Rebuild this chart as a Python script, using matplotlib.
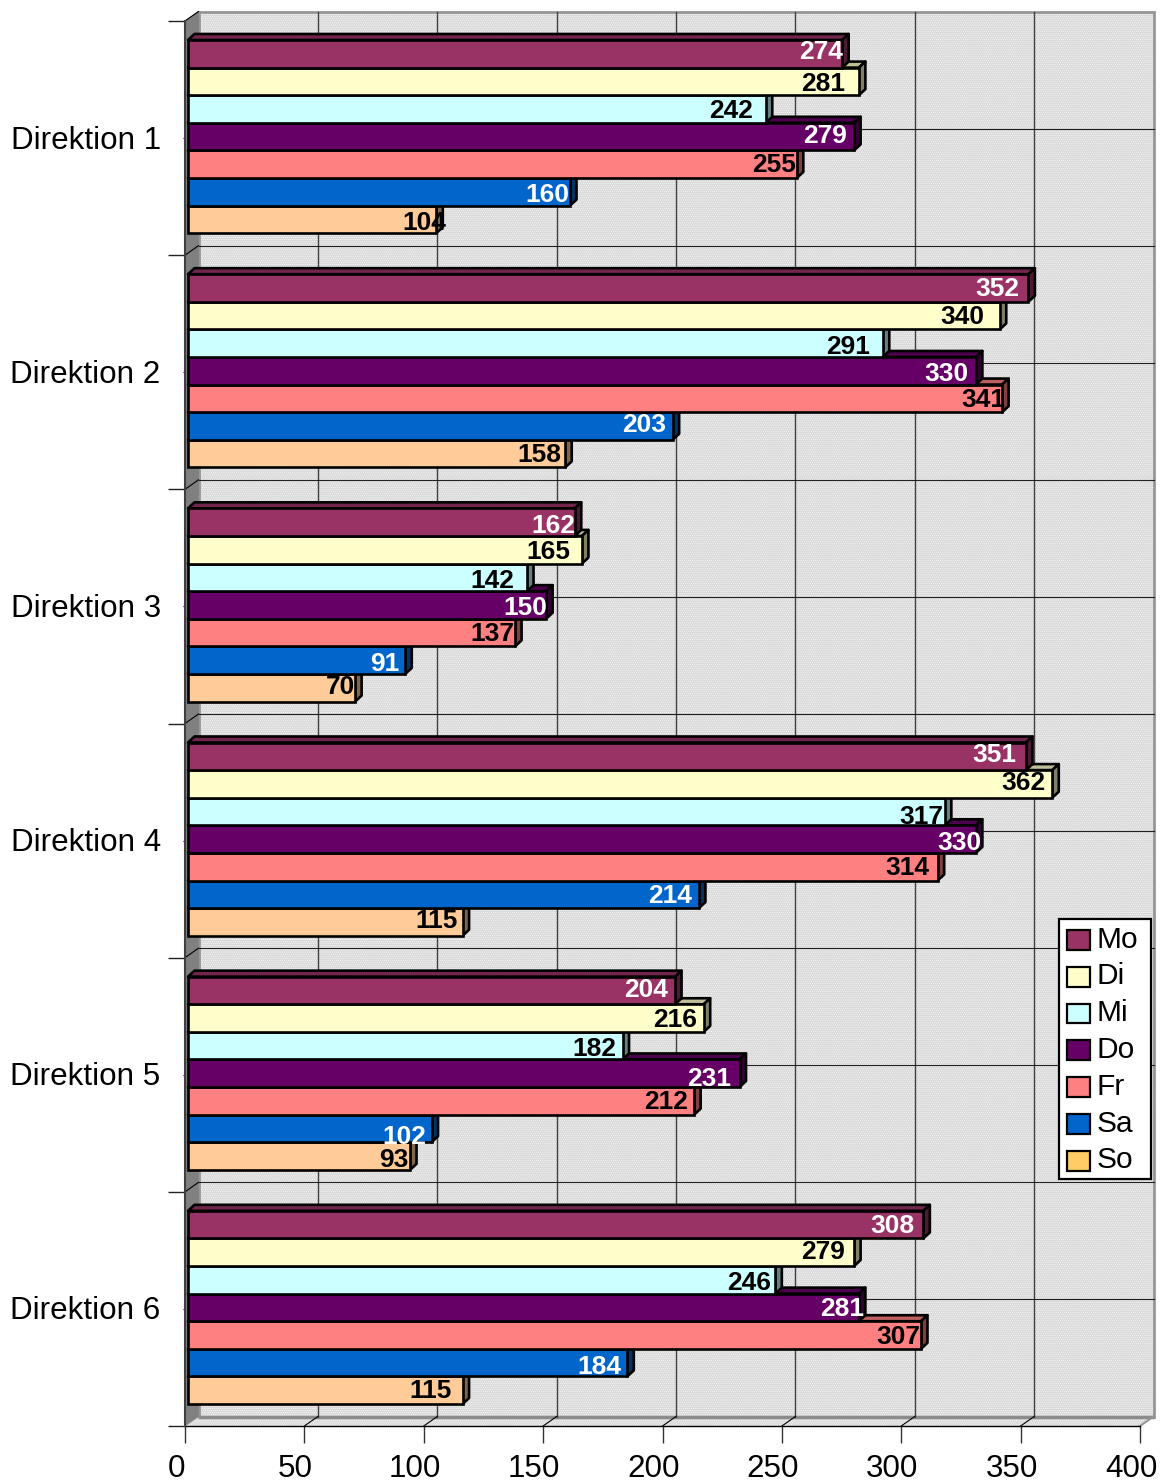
#!/usr/bin/env python3
# Horizontal 3D-look bar chart, weekday values per Direktion.
import matplotlib
matplotlib.use("Agg")
import matplotlib.pyplot as plt
from matplotlib.patches import Patch, Polygon, Rectangle
from matplotlib.transforms import ScaledTranslation, offset_copy

plt.rcParams["font.family"] = ["Liberation Sans", "DejaVu Sans"]
plt.rcParams["hatch.linewidth"] = 0.4

categories = ["Direktion 1", "Direktion 2", "Direktion 3",
              "Direktion 4", "Direktion 5", "Direktion 6"]
days = ["Mo", "Di", "Mi", "Do", "Fr", "Sa", "So"]

mo = [274, 352, 162, 351, 204, 308]
di = [281, 340, 165, 362, 216, 279]
mi = [242, 291, 142, 317, 182, 246]
do = [279, 330, 150, 330, 231, 281]
fr = [255, 341, 137, 314, 212, 307]
sa = [160, 203, 91, 214, 102, 184]
so = [104, 158, 70, 115, 93, 115]
series = [mo, di, mi, do, fr, sa, so]

x_ticks = [0, 50, 100, 150, 200, 250, 300, 350, 400]

bar_colors = ["#993366", "#FFFFCC", "#CCFFFF", "#660066", "#FF8080", "#0066CC", "#FFCC99"]
legend_colors = ["#993366", "#FFFFCC", "#CCFFFF", "#660066", "#FF8080", "#0066CC", "#FFCC66"]
label_colors = ["white", "black", "black", "white", "black", "white", "black"]

# hand placement of the value labels, px relative to bar end / bar middle
# one row per day, one column per Direktion
label_dx = [
    [-21, -31, -21, -32, -29, -31],
    [-36, -37, -34, -29, -29, -31],
    [-35, -35, -35, -23, -28, -26],
    [-29, -29, -21, -16, -30, -17],
    [-23, -19, -23, -30, -28, -23],
    [-23, -29, -21, -29, -27, -28],
    [-12, -26, -15, -26, -16, -32],
]
label_dy = [
    [-3, 0, 2, -3, -2, 0],
    [1, 0, 1, -2, 0, -2],
    [0, 2, 2, 4, 2, 2],
    [-2, 2, 2, 2, 4, 0],
    [-1, 0, 0, 0, 0, 0],
    [2, -2, 2, 0, 7, 3],
    [2, 0, -2, -2, 2, -1],
]

W, H = 1160, 1483
LEFT, RIGHT, TOP, BOTTOM = 185, 1140, 21, 1426
px_x = (RIGHT - LEFT) / 400
px_y = (BOTTOM - TOP) / 6

# depth of the wall and of the bars, in data units
WALL_DX, WALL_DY = 13.5 / px_x, 9.5 / px_y
BAR_DX, BAR_DY = 6.5 / px_x, 6 / px_y
BAR_X0 = 3 / px_x
BAR_H = 27.6 / px_y
GROUP_PAD = 19 / px_y
EDGE = 1.9


def shade(color, f):
    r, g, b = matplotlib.colors.to_rgb(color)
    return (r * f, g * f, b * f)


fig = plt.figure(figsize=(W / 100, H / 100), dpi=100)
ax = fig.add_axes([LEFT / W, 1 - BOTTOM / H, (RIGHT - LEFT) / W, (BOTTOM - TOP) / H])
ax.set_xlim(0, 400)
ax.set_ylim(6, 0)
for s in ax.spines.values():
    s.set_visible(False)
ax.patch.set_visible(False)

# back wall, floor and side wall
back = [(WALL_DX, -WALL_DY), (400 + WALL_DX, -WALL_DY), (400 + WALL_DX, 6 - WALL_DY), (WALL_DX, 6 - WALL_DY)]
floor = [(0, 6), (400, 6), (400 + WALL_DX, 6 - WALL_DY), (WALL_DX, 6 - WALL_DY)]
for pts in (back, floor):
    ax.add_patch(Polygon(pts, fc="#D9D9D9", ec="white", lw=0, hatch="........", clip_on=False, zorder=1))
ax.add_patch(Polygon(back, fc="none", ec="#969696", lw=2, clip_on=False, zorder=1))
ax.add_patch(Polygon([(WALL_DX, 6 - WALL_DY), (400 + WALL_DX, 6 - WALL_DY)], closed=False, fill=False,
                     ec="#8C8C8C", lw=2.5, clip_on=False, zorder=1))
ax.add_patch(Polygon([(0, 0), (WALL_DX, -WALL_DY), (WALL_DX, 6 - WALL_DY), (0, 6)],
                     fc="#808080", ec="#808080", lw=0.5, clip_on=False, zorder=1))
ax.plot([400, 400 + WALL_DX], [6, 6 - WALL_DY], color="#969696", lw=1.5, clip_on=False, zorder=1)

# grid on the wall, with the little diagonals to the front plane
for t in x_ticks[1:-1]:
    ax.plot([t + WALL_DX] * 2, [-WALL_DY, 6 - WALL_DY], color="#404040", lw=1, clip_on=False, zorder=2)
    ax.plot([t, t + WALL_DX], [6, 6 - WALL_DY], color="black", lw=0.8, clip_on=False, zorder=2)
for k in range(1, 12):
    ax.plot([WALL_DX, 400 + WALL_DX], [k / 2 - WALL_DY] * 2, color="#202020", lw=0.8, clip_on=False, zorder=2)
for k in range(0, 6):
    ax.plot([0, WALL_DX], [k, k - WALL_DY], color="black", lw=0.8, clip_on=False, zorder=2)
ax.plot([0, 400], [6, 6], color="black", lw=1, clip_on=False, zorder=2)
ax.plot([0, 0], [0, 6], color="#404040", lw=1.5, clip_on=False, zorder=2)

# bars go bottom row first: an upper bar covers the top face of the one below
for g in range(len(categories) - 1, -1, -1):
    for i in range(len(days) - 1, -1, -1):
        v = series[i][g]
        y0 = g + GROUP_PAD + i * BAR_H
        y1 = y0 + BAR_H
        end = BAR_X0 + v
        c = bar_colors[i]
        ax.add_patch(Polygon([(BAR_X0, y0), (end, y0), (end + BAR_DX, y0 - BAR_DY), (BAR_X0 + BAR_DX, y0 - BAR_DY)],
                             fc=shade(c, 0.75), ec="black", lw=EDGE, joinstyle="round", zorder=3))
        ax.add_patch(Polygon([(end, y0), (end + BAR_DX, y0 - BAR_DY), (end + BAR_DX, y1 - BAR_DY), (end, y1)],
                             fc=shade(c, 0.5), ec="black", lw=EDGE, joinstyle="round", zorder=3))
        ax.barh(y0 + BAR_H / 2, v, height=BAR_H, left=BAR_X0, color=c, edgecolor="black", lw=EDGE, zorder=3)

# value labels over all the bars
for g in range(len(categories)):
    for i in range(len(days)):
        v = series[i][g]
        yc = g + GROUP_PAD + (i + 0.5) * BAR_H
        tr = offset_copy(ax.transData, fig=fig, units="dots", x=label_dx[i][g], y=1 - label_dy[i][g])
        ax.text(BAR_X0 + v, yc, str(v), transform=tr, ha="center", va="center_baseline",
                fontsize=19, fontweight="bold", color=label_colors[i], zorder=5)

# axes ticks
ax.set_xticks(x_ticks)
ax.set_xticklabels([str(t) for t in x_ticks])
ax.tick_params(axis="x", length=12.2, width=1, pad=8, labelsize=22.6, color="#333333")
shift = ScaledTranslation(-9 / 100, 0, fig.dpi_scale_trans)
for lab in ax.get_xticklabels():
    lab.set_transform(lab.get_transform() + shift)

ax.set_yticks(range(7))
ax.set_yticklabels([])
ax.set_yticks([k + 0.5 for k in range(6)], minor=True)
ax.set_yticklabels(categories, minor=True)
ax.tick_params(axis="y", which="major", length=12.2, width=1, color="#222222")
ax.tick_params(axis="y", which="minor", length=1.5, width=0.8, pad=16, labelsize=22.6)
up = ScaledTranslation(0, 1 / 100, fig.dpi_scale_trans)
for lab in ax.get_yticklabels(minor=True):
    lab.set_transform(lab.get_transform() + up)

# legend box is wider than matplotlib would make it, so its frame is drawn apart
ax.add_patch(Rectangle((1058.5 / W, 1 - 1179 / H), 92.5 / W, 260 / H, transform=fig.transFigure,
                       fc="white", ec="black", lw=1.6, clip_on=False, zorder=6))
handles = [Patch(fc=c, ec="black", lw=1.6) for c in legend_colors]
leg = ax.legend(handles, days, loc="upper left", fontsize=21.5, frameon=False,
                bbox_to_anchor=(1060 / W, 1 - 919 / H), bbox_transform=fig.transFigure,
                borderpad=0.22, labelspacing=0.295, handlelength=0.78, handleheight=0.65,
                handletextpad=0.22, borderaxespad=0)
leg.set_zorder(7)
for p in leg.get_patches():
    p.set_y(p.get_y() - 2)

fig.savefig("out.png", dpi=100)
